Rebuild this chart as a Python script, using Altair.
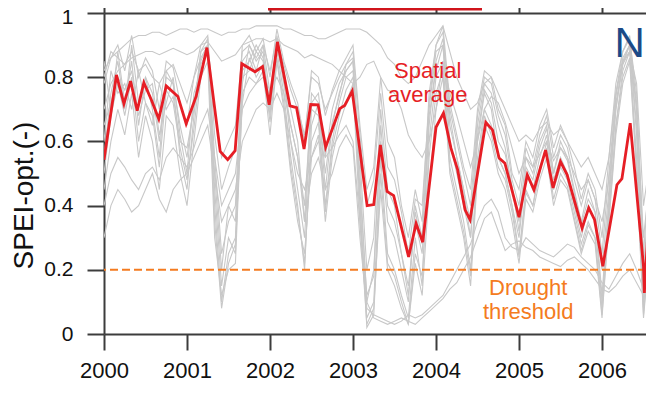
import altair as alt
import pandas as pd

FONT = "Liberation Sans"
RED = "#e61e25"
ORANGE = "#f47b20"
BLUE = "#1b4a87"
GRAY = "#c8c8c8"
AXC = "#3c3c3c"

x_ticks = [2000, 2001, 2002, 2003, 2004, 2005, 2006]
y_ticks = [0.0, 0.1, 0.2, 0.3, 0.4, 0.5, 0.6, 0.7, 0.8, 0.9, 1.0]
x_domain = [2000.0, 2006.53]
threshold = [0.2]

# spatial average (red)
red_year = [2000.00, 2000.15, 2000.24, 2000.32, 2000.40, 2000.48, 2000.57, 2000.66, 2000.75, 2000.89,
            2000.99, 2001.11, 2001.24, 2001.40, 2001.49, 2001.58, 2001.66, 2001.82, 2001.91, 2001.99,
            2002.09, 2002.24, 2002.32, 2002.41, 2002.49, 2002.58, 2002.67, 2002.84, 2002.90, 2002.99,
            2003.17, 2003.25, 2003.33, 2003.41, 2003.49, 2003.67, 2003.76, 2003.84, 2004.00, 2004.09,
            2004.18, 2004.26, 2004.35, 2004.41, 2004.60, 2004.68, 2004.76, 2004.83, 2005.00, 2005.10,
            2005.18, 2005.32, 2005.41, 2005.50, 2005.58, 2005.76, 2005.84, 2005.91, 2006.01, 2006.18,
            2006.24, 2006.34, 2006.50, 2006.51, 2006.60]
red_value = [0.543, 0.807, 0.717, 0.788, 0.696, 0.783, 0.730, 0.670, 0.773, 0.740,
             0.655, 0.740, 0.892, 0.569, 0.543, 0.571, 0.842, 0.817, 0.833, 0.714,
             0.910, 0.711, 0.705, 0.576, 0.715, 0.714, 0.582, 0.702, 0.712, 0.757,
             0.400, 0.403, 0.589, 0.444, 0.431, 0.240, 0.344, 0.286, 0.644, 0.688,
             0.579, 0.512, 0.387, 0.356, 0.659, 0.636, 0.548, 0.532, 0.364, 0.496,
             0.449, 0.573, 0.455, 0.537, 0.496, 0.330, 0.393, 0.356, 0.211, 0.465,
             0.484, 0.657, 0.211, 0.128, 0.520]

# individual grid cells (gray), monthly values in hundredths, Jan 2000 onward
g01 = [78, 86, 90, 82, 93, 80, 86, 82, 70, 85, 83, 72,
       65, 80, 90, 93, 62, 45, 52, 58, 90, 93, 88, 92,
       80, 95, 85, 78, 72, 60, 82, 80, 68, 76, 82, 86,
       90, 65, 45, 52, 80, 60, 55, 40, 30, 45, 35, 75,
       90, 96, 72, 62, 52, 45, 70, 82, 80, 70, 65, 50,
       45, 60, 55, 65, 70, 58, 65, 60, 52, 42, 50, 45,
       30, 55, 78, 88, 92, 75, 25, 55]
g02 = [85, 70, 88, 72, 85, 65, 80, 75, 60, 80, 78, 65,
       55, 72, 85, 90, 55, 25, 35, 40, 85, 88, 82, 90,
       75, 90, 78, 65, 55, 40, 72, 75, 55, 70, 78, 82,
       85, 55, 20, 30, 70, 45, 40, 25, 15, 35, 25, 65,
       85, 92, 68, 55, 45, 35, 65, 78, 75, 65, 58, 45,
       35, 55, 50, 60, 65, 50, 60, 55, 45, 35, 45, 38,
       20, 45, 70, 85, 90, 65, 15, 45]
g03 = [60, 82, 75, 78, 70, 82, 72, 65, 78, 70, 74, 60,
       58, 70, 88, 92, 45, 15, 30, 25, 80, 82, 88, 85,
       72, 93, 80, 60, 45, 30, 70, 68, 40, 60, 72, 80,
       82, 50, 10, 20, 60, 35, 30, 20, 10, 40, 30, 70,
       88, 90, 60, 50, 40, 30, 60, 75, 70, 55, 50, 40,
       30, 50, 45, 55, 62, 48, 55, 50, 40, 30, 40, 35,
       10, 40, 75, 88, 93, 70, 10, 40]
g04 = [55, 75, 85, 70, 90, 72, 80, 70, 55, 82, 78, 55,
       45, 68, 88, 90, 40, 10, 25, 30, 78, 90, 85, 88,
       70, 88, 75, 55, 40, 20, 65, 72, 45, 65, 75, 82,
       85, 40, 5, 10, 55, 25, 20, 12, 5, 30, 15, 60,
       80, 85, 55, 45, 35, 20, 55, 70, 65, 55, 50, 40,
       25, 45, 40, 50, 60, 45, 52, 48, 38, 28, 35, 30,
       8, 38, 65, 82, 88, 55, 8, 35]
g05 = [80, 88, 86, 84, 88, 82, 84, 80, 78, 82, 84, 78,
       72, 80, 86, 90, 70, 55, 60, 65, 88, 90, 86, 90,
       82, 92, 84, 76, 70, 62, 80, 78, 70, 75, 80, 84,
       88, 62, 40, 48, 75, 52, 48, 38, 25, 42, 40, 72,
       90, 94, 70, 60, 50, 40, 68, 80, 78, 68, 62, 48,
       40, 58, 52, 62, 68, 55, 62, 58, 48, 40, 48, 42,
       25, 50, 74, 86, 90, 72, 20, 50]
g06 = [45, 60, 70, 62, 75, 55, 68, 60, 45, 68, 65, 50,
       40, 60, 80, 85, 30, 12, 20, 22, 75, 80, 78, 82,
       62, 85, 70, 50, 35, 25, 55, 62, 35, 55, 65, 72,
       78, 35, 3, 8, 45, 20, 15, 8, 3, 22, 12, 45,
       70, 80, 50, 40, 30, 15, 50, 65, 60, 50, 45, 35,
       22, 42, 38, 48, 55, 40, 48, 45, 35, 25, 32, 28,
       5, 35, 62, 78, 85, 50, 5, 30]
g07 = [82, 86, 88, 90, 92, 93, 93, 94, 94, 93, 94, 95,
       95, 94, 95, 95, 94, 93, 94, 94, 95, 95, 96, 96,
       96, 96, 95, 95, 94, 93, 93, 92, 92, 93, 94, 95,
       95, 95, 94, 92, 90, 86, 84, 80, 78, 80, 85, 90,
       93, 96, 88, 80, 75, 70, 72, 78, 80, 75, 70, 65,
       60, 62, 60, 64, 66, 62, 64, 60, 56, 52, 55, 50,
       45, 55, 75, 85, 88, 78, 40, 55]
g08 = [70, 78, 82, 84, 86, 87, 88, 88, 87, 88, 89, 88,
       87, 88, 90, 91, 88, 85, 86, 87, 90, 91, 92, 92,
       91, 92, 90, 89, 88, 86, 87, 86, 85, 84, 82, 80,
       78, 80, 84, 85, 80, 76, 75, 70, 62, 58, 55, 60,
       70, 85, 75, 68, 60, 52, 60, 70, 74, 72, 66, 58,
       50, 55, 52, 56, 60, 54, 58, 55, 50, 45, 48, 42,
       35, 48, 72, 84, 88, 70, 30, 50]
g09 = [30, 40, 45, 42, 38, 40, 45, 50, 42, 38, 45, 48,
       50, 55, 60, 65, 50, 35, 40, 45, 60, 65, 70, 72,
       70, 75, 70, 60, 50, 45, 55, 60, 55, 58, 62, 65,
       60, 35, 10, 5, 4, 3, 4, 5, 4, 3, 5, 7,
       9, 11, 14, 16, 20, 24, 30, 36, 38, 32, 26, 28,
       29, 27, 26, 24, 23, 22, 21, 23, 24, 22, 20, 17,
       14, 13, 15, 18, 20, 16, 12, 15]
g10 = [40, 50, 55, 52, 48, 45, 50, 52, 48, 55, 58, 55,
       52, 58, 65, 70, 55, 40, 45, 50, 70, 75, 78, 80,
       76, 80, 75, 65, 55, 35, 50, 55, 45, 50, 58, 62,
       58, 30, 8, 6, 5, 4, 3, 4, 6, 5, 6, 8,
       10, 12, 16, 20, 24, 28, 35, 40, 42, 38, 30, 27,
       26, 30, 28, 26, 25, 24, 26, 28, 27, 24, 22, 20,
       16, 14, 18, 22, 25, 20, 14, 18]
g11 = [65, 72, 80, 76, 82, 68, 76, 78, 62, 72, 80, 62,
       50, 75, 82, 88, 50, 20, 40, 35, 82, 85, 90, 86,
       68, 92, 82, 70, 60, 35, 75, 72, 50, 66, 74, 84,
       86, 45, 12, 18, 65, 40, 35, 25, 12, 38, 28, 68,
       82, 90, 65, 55, 45, 30, 62, 76, 72, 60, 56, 46,
       32, 52, 48, 58, 64, 50, 58, 54, 44, 34, 42, 38,
       12, 42, 70, 84, 90, 62, 12, 42]
g12 = [50, 68, 78, 68, 80, 60, 72, 68, 52, 76, 72, 58,
       48, 64, 84, 88, 35, 8, 22, 28, 72, 86, 80, 84,
       66, 86, 72, 52, 38, 22, 60, 66, 38, 58, 68, 76,
       80, 42, 2, 6, 50, 22, 18, 10, 3, 25, 18, 55,
       75, 82, 52, 42, 32, 18, 52, 68, 62, 52, 48, 38,
       24, 44, 40, 52, 58, 42, 50, 46, 36, 26, 34, 30,
       6, 36, 64, 80, 86, 52, 6, 32]

gray_lists = [g01, g02, g03, g04, g05, g06, g07, g08, g09, g10, g11, g12]

rows = []
for i, s in enumerate(gray_lists):
    for m, v in enumerate(s):
        rows.append({"series": f"g{i}", "year": 2000 + m / 12.0, "value": v / 100.0})
df_gray = pd.DataFrame(rows)
df_red = pd.DataFrame({"year": red_year, "value": red_value})

xscale = alt.Scale(domain=x_domain, nice=False, zero=False)
yscale = alt.Scale(domain=[0, 1], nice=False, zero=False)

label_expr = ("round(datum.value*10) % 2 == 0 ? (round(datum.value*10) == 0 ? '0' : "
              "(round(datum.value*10) == 10 ? '1' : format(datum.value, '.1f'))) : ''")

left_axis = alt.Axis(values=y_ticks, labelExpr=label_expr, tickSize=17, tickWidth=2,
                     tickColor=AXC, domainColor=AXC, domainWidth=2, grid=False,
                     labelFont=FONT, labelFontSize=21, labelColor="#111111", labelPadding=14,
                     labelOffset=alt.condition("datum.value > 0.99", alt.value(4), alt.value(0)),
                     title="SPEI-opt.(-)", titleFont=FONT, titleFontSize=28,
                     titleFontWeight="normal", titleColor="#111111",
                     titleX=-80, titleY=182, titleAlign="center", titleBaseline="middle")
bottom_axis = alt.Axis(orient="bottom", values=x_ticks, format="d", tickSize=16, tickWidth=2,
                       tickColor=AXC, domainColor=AXC, domainWidth=2, grid=False,
                       labelFont=FONT, labelFontSize=22, labelColor="#111111",
                       labelPadding=10, labelFlush=False, title=None)
top_axis = alt.Axis(orient="top", values=x_ticks, labels=False, tickSize=16, tickWidth=2,
                    tickColor=AXC, domainColor=AXC, domainWidth=2, grid=False, title=None)

gray = alt.Chart(df_gray).mark_line(color=GRAY, strokeWidth=1.1, clip=True).encode(
    x=alt.X("year:Q", scale=xscale, axis=bottom_axis),
    y=alt.Y("value:Q", scale=yscale, axis=left_axis),
    detail="series:N",
)

thresh = alt.Chart(pd.DataFrame({"value": threshold})).mark_rule(
    color=ORANGE, strokeWidth=2, strokeDash=[8, 4]
).encode(y=alt.Y("value:Q"))

red = alt.Chart(df_red).mark_line(color=RED, strokeWidth=2.8, clip=True).encode(
    x=alt.X("year:Q", axis=top_axis),
    y=alt.Y("value:Q"),
)

df_t1 = pd.DataFrame({"year": [2003.90], "value": [0.798], "label": ["Spatial\naverage"]})
t1 = alt.Chart(df_t1).mark_text(font=FONT, fontSize=22, color=RED, align="center",
                                baseline="alphabetic", lineBreak="\n", lineHeight=24).encode(
    x=alt.X("year:Q", axis=None), y=alt.Y("value:Q"), text="label:N")

df_t2 = pd.DataFrame({"year": [2005.11], "value": [0.12], "label": ["Drought\nthreshold"]})
t2 = alt.Chart(df_t2).mark_text(font=FONT, fontSize=22, color=ORANGE, align="center",
                                baseline="alphabetic", lineBreak="\n", lineHeight=24).encode(
    x=alt.X("year:Q", axis=None), y=alt.Y("value:Q"), text="label:N")

df_t3 = pd.DataFrame({"year": [2006.15], "value": [0.863], "label": ["No"]})
t3 = alt.Chart(df_t3).mark_text(font=FONT, fontSize=42, color=BLUE, align="left",
                                baseline="alphabetic", clip=True).encode(
    x=alt.X("year:Q", axis=None), y=alt.Y("value:Q"), text="label:N")

box = alt.Chart(pd.DataFrame({"a": [0]})).mark_rule(color="#d0141b", strokeWidth=3).encode(
    x=alt.value(164), x2=alt.value(378), y=alt.value(-4))

chart = alt.layer(gray, thresh, red, t1, t2, t3, box).resolve_axis(x="independent").properties(
    width=542, height=321,
    autosize=alt.AutoSizeParams(type="none"),
    padding={"left": 96, "top": 5, "right": 0, "bottom": 50},
    background="white",
).configure_view(stroke=None)

chart.save("out.html", embed_options={"renderer": "svg", "actions": False})
